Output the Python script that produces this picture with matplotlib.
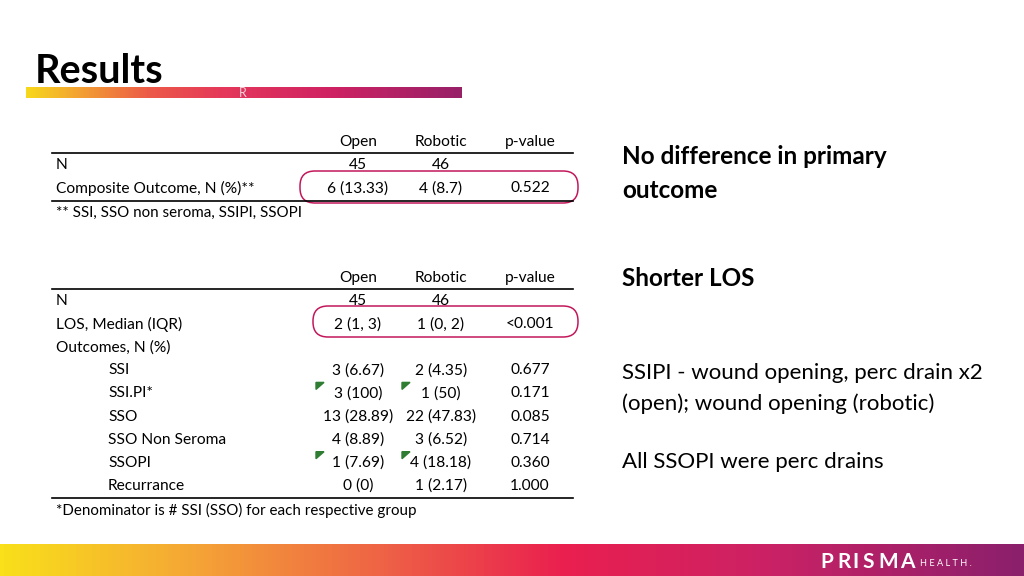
import numpy as np
import matplotlib
matplotlib.use("Agg")
import matplotlib.pyplot as plt
from matplotlib.colors import LinearSegmentedColormap
from matplotlib.patches import FancyBboxPatch, Polygon

plt.rcParams['font.family'] = ['Lato', 'DejaVu Sans']

# ---- data ----
columns = ["Open", "Robotic", "p-value"]
t1_rows = ["N", "Composite Outcome, N (%)**"]
t1_open = ["45", "6 (13.33)"]
t1_robotic = ["46", "4 (8.7)"]
t1_p = ["", "0.522"]
t1_note = "** SSI, SSO non seroma, SSIPI, SSOPI"

t2_rows = ["N", "LOS, Median (IQR)", "Outcomes, N (%)", "SSI", "SSI.PI*", "SSO",
           "SSO Non Seroma", "SSOPI", "Recurrance"]
t2_indent = [False, False, False, True, True, True, True, True, True]
t2_open = ["45", "2 (1, 3)", "", "3 (6.67)", "3 (100)", "13 (28.89)", "4 (8.89)", "1 (7.69)", "0 (0)"]
t2_robotic = ["46", "1 (0, 2)", "", "2 (4.35)", "1 (50)", "22 (47.83)", "3 (6.52)", "4 (18.18)", "1 (2.17)"]
t2_p = ["", "<0.001", "", "0.677", "0.171", "0.085", "0.714", "0.360", "1.000"]
t2_note = "*Denominator is # SSI (SSO) for each respective group"
flagged_rows = ["SSI.PI*", "SSOPI"]

side_lines = [
    ("No difference in primary", "bold", 157),
    ("outcome", "bold", 191),
    ("Shorter LOS", "bold", 278),
    ("SSIPI - wound opening, perc drain x2", "normal", 373),
    ("(open); wound opening (robotic)", "normal", 404),
    ("All SSOPI were perc drains", "normal", 462),
]

W, H = 1024, 576
fig = plt.figure(figsize=(W / 100, H / 100), dpi=100)
ax = fig.add_axes([0, 0, 1, 1])
ax.set_xlim(0, W)
ax.set_ylim(H, 0)
ax.axis("off")

# gradients
title_cmap = LinearSegmentedColormap.from_list("t", [
    (0.0, "#F7D81A"), (0.12, "#F3A232"), (0.28, "#EC5A47"), (0.45, "#E5385A"),
    (0.7, "#CF2263"), (1.0, "#972068")])
bottom_cmap = LinearSegmentedColormap.from_list("b", [
    (0.0, "#F9E01A"), (0.18, "#F5A835"), (0.38, "#EE6046"), (0.55, "#EA1F4F"),
    (0.75, "#CB2265"), (1.0, "#8A1F6C")])
grad = np.linspace(0, 1, 512).reshape(1, -1)
ax.imshow(grad, cmap=title_cmap, extent=[26, 462, 98, 87], aspect="auto", zorder=1)
ax.imshow(grad, cmap=bottom_cmap, extent=[0, W, 576, 544], aspect="auto", zorder=1)
ax.text(243, 93, "R", color="#F3D0D8", fontsize=9, ha="center", va="center", zorder=2)

ax.text(35, 83, "Results", fontsize=28.5, fontweight="bold", color="black", va="baseline")

# logo
for ch, cx in zip("PRISMA", [827, 844, 856, 868, 888, 907]):
    ax.text(cx, 562, ch, fontsize=15, fontweight="bold", color="white",
            va="center", ha="center")
ax.text(920, 563, "H E A L T H .", fontsize=6.6, color="white", va="center", ha="left")

fs = 11.2
col_x = [358, 441, 530]
lx0, lx1 = 52, 573

def draw_table(y_head, rows, indent, vals, note):
    for cx, c in zip(col_x, columns):
        ax.text(cx, y_head, c, fontsize=fs, ha="center", va="center")
    line_y = y_head + 11
    ax.plot([lx0, lx1], [line_y, line_y], color="black", lw=1.2)
    y = line_y + 12
    ys = []
    for i, r in enumerate(rows):
        x = 108 if indent[i] else 56
        ax.text(x, y, r, fontsize=fs, ha="left", va="center")
        for cx, v in zip(col_x, [vals[0][i], vals[1][i], vals[2][i]]):
            ax.text(cx, y, v, fontsize=fs, ha="center", va="center")
        ys.append(y)
        y += 23.1
    end_y = ys[-1] + 12.5
    ax.plot([lx0, lx1], [end_y, end_y], color="black", lw=1.2)
    ax.text(56, end_y + 12, note, fontsize=fs - 0.3, ha="left", va="center")
    return ys

ys1 = draw_table(142, t1_rows, [False, False], [t1_open, t1_robotic, t1_p], t1_note)
ax.add_patch(FancyBboxPatch((300, 171), 278, 32,
                            boxstyle="round,pad=0,rounding_size=15",
                            fill=False, ec="#C2185B", lw=1.1))

ys2 = draw_table(278, t2_rows, t2_indent, [t2_open, t2_robotic, t2_p], t2_note)
ax.add_patch(FancyBboxPatch((313, 306), 265, 31,
                            boxstyle="round,pad=0,rounding_size=15",
                            fill=False, ec="#C2185B", lw=1.1))

# green comment markers
for r in flagged_rows:
    yy = ys2[t2_rows.index(r)]
    for x0 in (316, 402):
        ax.add_patch(Polygon([[x0, yy - 11], [x0 + 8, yy - 11], [x0, yy - 4]],
                             closed=True, color="#2E7D32", zorder=3))

for txt, wt, y in side_lines:
    size = 17.5 if wt == "bold" else 16
    ax.text(622, y, txt, fontsize=size, fontweight=wt, ha="left", va="center")

fig.savefig("out.png", dpi=100)
